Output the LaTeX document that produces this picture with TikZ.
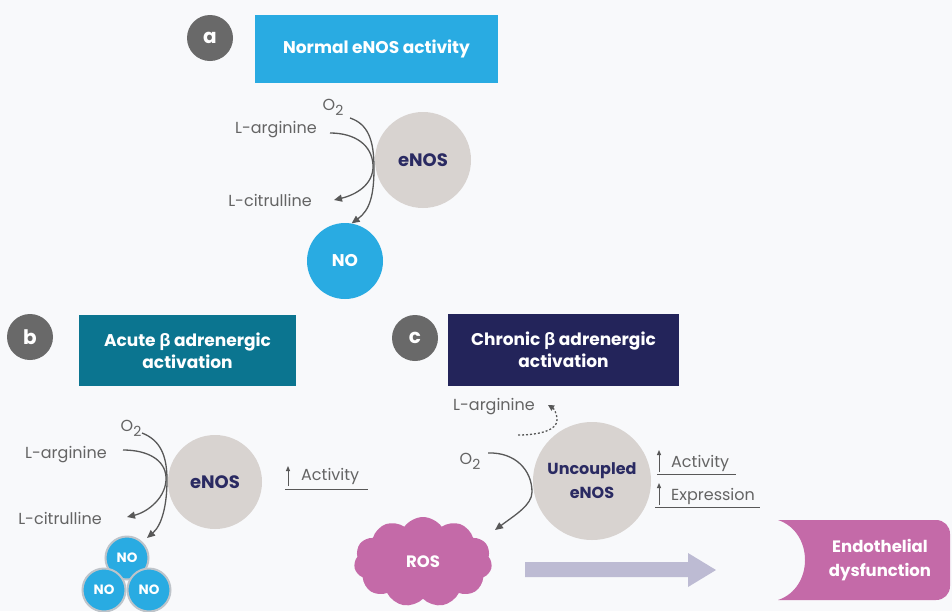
\documentclass[tikz,border=0pt]{standalone}
\usepackage{fontspec}
\setmainfont{Poppins}
\newfontfamily\grk{Open Sans}
\usetikzlibrary{shapes.symbols,arrows.meta}
\definecolor{bgc}{RGB}{248,249,251}
\definecolor{cyanA}{RGB}{41,171,226}
\definecolor{tealB}{RGB}{11,117,144}
\definecolor{navyC}{RGB}{35,36,90}
\definecolor{labgray}{RGB}{105,105,105}
\definecolor{enosc}{RGB}{216,211,208}
\definecolor{navytxt}{RGB}{42,42,98}
\definecolor{pinkc}{RGB}{196,106,168}
\definecolor{lavc}{RGB}{189,187,211}
\definecolor{linegray}{RGB}{88,88,88}
\definecolor{txtgray}{RGB}{100,100,100}
\definecolor{nobord}{RGB}{190,196,202}
\newcommand{\otwo}{O\raisebox{-5pt}{\fontsize{14}{14}\selectfont 2}}
\newcommand{\bet}{{\grk\bfseries β}}
\begin{document}
\begin{tikzpicture}[x=1pt,y=-1pt,
 lbl/.style={circle, fill=labgray, text=white, font=\bfseries\fontsize{20}{20}\selectfont, minimum size=46pt, inner sep=0pt},
 titlebox/.style={text=white, font=\bfseries\fontsize{17}{22}\selectfont, align=center, inner sep=0pt},
 chem/.style={text=txtgray, font=\fontsize{16}{16}\selectfont, inner sep=0pt},
 enz/.style={circle, fill=enosc, text=navytxt, font=\bfseries\fontsize{18}{24}\selectfont, align=center, inner sep=0pt},
 nocirc/.style={circle, fill=cyanA, text=white, font=\bfseries\fontsize{17}{17}\selectfont, inner sep=0pt},
 nosmall/.style={circle, fill=cyanA, draw=nobord, line width=2pt, text=white, font=\bfseries\fontsize{13.5}{13.5}\selectfont, minimum size=43pt, inner sep=0pt},
 flow/.style={draw=linegray, line width=1.3pt, -{Triangle[length=8pt,width=7pt]}},
 uparr/.style={draw=linegray, line width=1pt, -{Triangle[length=5pt,width=4pt]}},
 uline/.style={draw=linegray, line width=1pt},
]
\useasboundingbox (0,0) rectangle (952,611);
\fill[bgc] (0,0) rectangle (952,611);

% ---------- panel a ----------
\node[lbl] (la) at (210,38) {a};
\node[titlebox, fill=cyanA, minimum width=243pt, minimum height=68pt] (ta) at (376.5,49) {Normal eNOS activity};
\node[enz, minimum size=96pt] (ea) at (423,160) {eNOS};
\node[nocirc, minimum size=76pt] (noa) at (345,261) {NO};
\node[chem] (o2a) at (333,107) {\otwo};
\node[chem] (larga) at (276,130) {L-arginine};
\node[chem] (lcita) at (270,200) {L-citrulline};
\coordinate (a1) at (350,118);
\coordinate (a2) at (330,133);
\coordinate (a3) at (334,200);
\draw[flow] (a1) .. controls (368,124) and (374,140) .. (374,168) .. controls (374,195) and (370,210) .. (noa.80);
\draw[flow] (a2) .. controls (355,133) and (372,145) .. (373,165) .. controls (374,185) and (355,195) .. (a3);

% ---------- panel b ----------
\node[lbl] (lb) at (30,337) {b};
\node[titlebox, fill=tealB, minimum width=217pt, minimum height=71pt] (tb) at (187.5,350.5) {Acute \bet{} adrenergic\\activation};
\node[enz, minimum size=94pt] (eb) at (215,482) {eNOS};
\node[chem] (o2b) at (131,428) {\otwo};
\node[chem] (largb) at (66,455) {L-arginine};
\node[chem] (lcitb) at (60,518) {L-citrulline};
\node[nosmall] (no1) at (127,558) {NO};
\node[nosmall] (no2) at (104,590) {NO};
\node[nosmall] (no3) at (149,590) {NO};
\coordinate (b1) at (142,433);
\coordinate (b2) at (123,450);
\coordinate (b3) at (127,517);
\coordinate (b4) at (147,538);
\draw[flow] (b1) .. controls (160,440) and (167,455) .. (167,480) .. controls (167,505) and (162,525) .. (b4);
\draw[flow] (b2) .. controls (148,450) and (165,460) .. (166,477) .. controls (167,497) and (148,512) .. (b3);
\node[chem, anchor=west] (actb) at (301,476) {Activity};
\coordinate (ub1) at (285,489);
\coordinate (ub2) at (368,489);
\draw[uline] (ub1) -- (ub2);
\coordinate (abot) at (288,486);
\coordinate (atop) at (288,466);
\draw[uparr] (abot) -- (atop);

% ---------- panel c ----------
\node[lbl] (lc) at (415,338) {c};
\node[titlebox, fill=navyC, minimum width=231pt, minimum height=72pt] (tc) at (563.5,350) {Chronic \bet{} adrenergic\\activation};
\node[enz, minimum size=118pt, font=\bfseries\fontsize{16}{24}\selectfont] (ec) at (592,481) {Uncoupled\\eNOS};
\node[chem] (largc) at (494,407) {L-arginine};
\node[chem] (o2c) at (470,461) {\otwo};
\coordinate (c1) at (518,435);
\coordinate (c2) at (548,405);
\draw[draw=linegray, line width=1.3pt, dash pattern=on 2pt off 2pt, -{Triangle[length=6pt,width=6pt]}] (c1) .. controls (540,435) and (557,430) .. (557,420) .. controls (557,412) and (553,408) .. (c2);
\coordinate (c3) at (488,453);
\coordinate (c4) at (495,530);
\draw[flow] (c3) .. controls (515,452) and (532,470) .. (532,492) .. controls (532,505) and (515,515) .. (c4);
\node[chem, anchor=west] (actc) at (671,463) {Activity};
\node[chem, anchor=west] (expc) at (671,496) {Expression};
\coordinate (uc1) at (657,474);
\coordinate (uc2) at (736,474);
\coordinate (uc3) at (655,507);
\coordinate (uc4) at (760,507);
\draw[uline] (uc1) -- (uc2);
\draw[uline] (uc3) -- (uc4);
\coordinate (ca1) at (659,472);
\coordinate (ca2) at (659,450);
\coordinate (ca3) at (659,505);
\coordinate (ca4) at (659,483);
\draw[uparr] (ca1) -- (ca2);
\draw[uparr] (ca3) -- (ca4);

% ROS cloud
\node[cloud, cloud puffs=11, cloud puff arc=110, aspect=1.5, fill=pinkc, minimum width=138pt, minimum height=90pt, text=white, font=\bfseries\fontsize{16.5}{16.5}\selectfont, inner sep=0pt] (ros) at (423,562) {ROS};

% big arrow
\fill[lavc] (525,562) -- (688,562) -- (688,553) -- (716,570) -- (688,587) -- (688,577) -- (525,577) -- cycle;

% endothelial dysfunction
\fill[pinkc] (778,520) -- (936,520) .. controls (944,520) and (950,526) .. (950,534) -- (950,586) .. controls (950,594) and (944,600) .. (936,600) -- (778,600) .. controls (814,588) and (814,532) .. (778,520) -- cycle;
\node[titlebox, font=\bfseries\fontsize{16.5}{24}\selectfont] (endo) at (880,560) {Endothelial\\dysfunction};
\end{tikzpicture}
\end{document}
